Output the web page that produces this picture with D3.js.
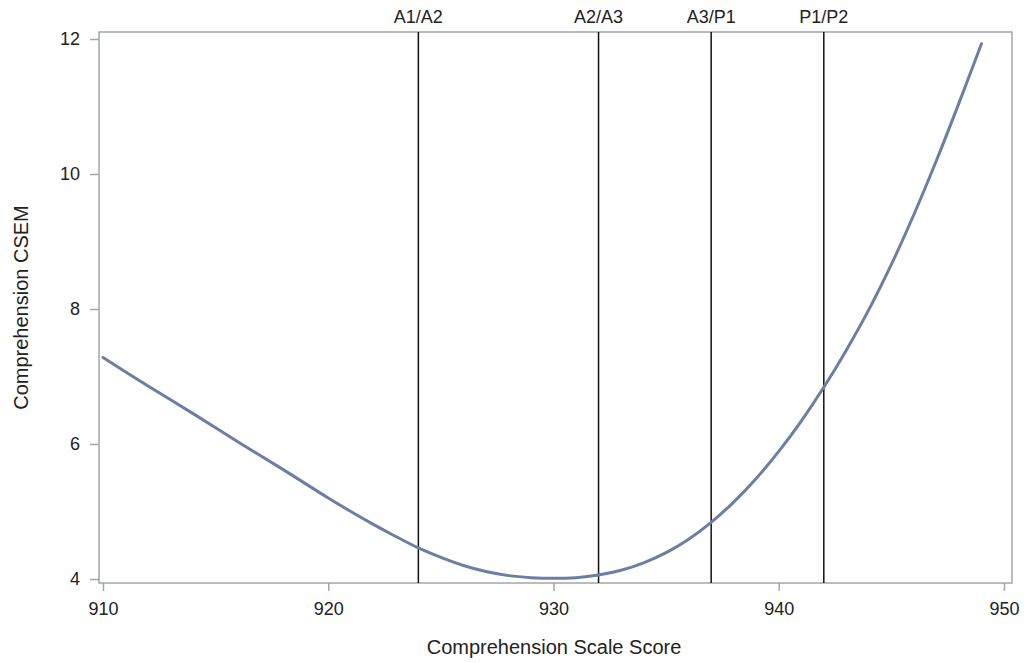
<!DOCTYPE html>
<html>
<head>
<meta charset="utf-8">
<script src="https://cdn.jsdelivr.net/npm/d3@7"></script>
<style>
  body { margin: 0; background: #fff; }
  text { font-family: "Liberation Sans", Arial, sans-serif; fill: #222; }
</style>
</head>
<body>
<div id="chart"></div>
<script>
// scale score values and CSEM
const scores = [910, 912, 914, 916, 918, 920, 921, 922, 923, 924, 925, 926, 927, 928, 929, 930,
                931, 932, 933, 934, 935, 936, 937, 938, 939, 940, 941, 942, 943, 944, 945, 946, 947, 948, 949];
const csem   = [7.28, 6.86, 6.45, 6.03, 5.62, 5.20, 5.00, 4.81, 4.63, 4.46, 4.32, 4.20, 4.11, 4.05, 4.02, 4.01,
                4.02, 4.06, 4.13, 4.24, 4.39, 4.59, 4.84, 5.14, 5.49, 5.89, 6.34, 6.84, 7.39, 7.99, 8.66, 9.40, 10.20, 11.05, 11.93];

// cut score lines
const cutLabels = ["A1/A2", "A2/A3", "A3/P1", "P1/P2"];
const cutScores = [924, 932, 937, 942];

const xTicks = [910, 920, 930, 940, 950];
const yTicks = [4, 6, 8, 10, 12];

const w = 1024, h = 663;
// plot frame
const frame = {left: 99, top: 32, right: 1012, bottom: 583};

const svg = d3.select("#chart").append("svg")
  .attr("width", w).attr("height", h);

const x = d3.scaleLinear().domain([910, 950]).range([103, 1004]);
const y = d3.scaleLinear().domain([4, 12]).range([579, 39]);

const axisColor = "#a3a7ab";

// x axis
const xAxis = svg.append("g")
  .attr("transform", "translate(0," + frame.bottom + ")")
  .call(d3.axisBottom(x).tickValues(xTicks).tickSize(8).tickPadding(11).tickFormat(d3.format("d")));
xAxis.select(".domain").remove();
xAxis.selectAll("line").attr("stroke", axisColor).attr("stroke-width", 1.5);
xAxis.selectAll("text").attr("font-size", "18px").attr("fill", "#222");

// y axis
const yAxis = svg.append("g")
  .attr("transform", "translate(" + frame.left + ",0)")
  .call(d3.axisLeft(y).tickValues(yTicks).tickSize(9).tickPadding(10).tickFormat(d3.format("d")));
yAxis.select(".domain").remove();
yAxis.selectAll("line").attr("stroke", axisColor).attr("stroke-width", 1.5);
yAxis.selectAll("text").attr("font-size", "18px").attr("fill", "#222");

// frame
svg.append("rect")
  .attr("x", frame.left).attr("y", frame.top)
  .attr("width", frame.right - frame.left)
  .attr("height", frame.bottom - frame.top)
  .attr("fill", "none").attr("stroke", axisColor).attr("stroke-width", 1.5);

// cut score reference lines
svg.append("g").selectAll("line")
  .data(cutScores)
  .join("line")
  .attr("x1", d => x(d)).attr("x2", d => x(d))
  .attr("y1", frame.top).attr("y2", frame.bottom)
  .attr("stroke", "#111").attr("stroke-width", 1.5);

svg.append("g").selectAll("text")
  .data(cutScores)
  .join("text")
  .attr("x", d => x(d)).attr("y", 23)
  .attr("text-anchor", "middle")
  .attr("font-size", "18px")
  .text((d, i) => cutLabels[i]);

// CSEM curve
const pts = scores.map((s, i) => ({s: s, v: csem[i]}));
const line = d3.line()
  .x(d => x(d.s))
  .y(d => y(d.v))
  .curve(d3.curveCatmullRom.alpha(0.5));

svg.append("path")
  .attr("d", line(pts))
  .attr("fill", "none")
  .attr("stroke", "#6b7fa5")
  .attr("stroke-width", 3)
  .attr("stroke-linecap", "round");

// axis titles
svg.append("text")
  .attr("x", 554)
  .attr("y", 654)
  .attr("text-anchor", "middle")
  .attr("font-size", "20px")
  .text("Comprehension Scale Score");

svg.append("text")
  .attr("transform", "translate(28," + ((frame.top + frame.bottom) / 2) + ") rotate(-90)")
  .attr("text-anchor", "middle")
  .attr("font-size", "20px")
  .text("Comprehension CSEM");
</script>
</body>
</html>
